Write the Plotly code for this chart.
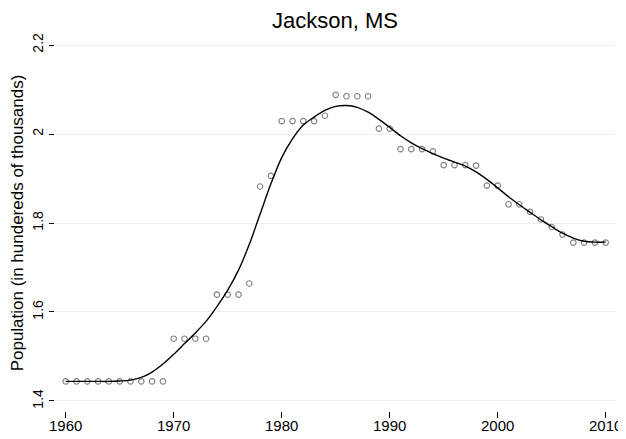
import plotly.graph_objects as go

years = list(range(1960, 2011))
population = [
    1.444, 1.444, 1.444, 1.444, 1.444, 1.444, 1.444, 1.444, 1.444, 1.444,  # 1960-1969
    1.540, 1.540, 1.540, 1.540, 1.639, 1.639, 1.639, 1.664, 1.882, 1.906,  # 1970-1979
    2.029, 2.029, 2.029, 2.029, 2.041, 2.088, 2.085, 2.085, 2.085, 2.012,  # 1980-1989
    2.012, 1.966, 1.966, 1.966, 1.961, 1.930, 1.930, 1.930, 1.929, 1.884,  # 1990-1999
    1.884, 1.842, 1.842, 1.825, 1.808, 1.791, 1.774, 1.756, 1.756, 1.756,  # 2000-2009
    1.756,                                                                 # 2010
]
smoothed = [
    1.444, 1.444, 1.444, 1.444, 1.444, 1.445, 1.447, 1.453, 1.465, 1.483,
    1.505, 1.529, 1.553, 1.579, 1.612, 1.649, 1.694, 1.752, 1.820, 1.888,
    1.947, 1.989, 2.020, 2.038, 2.053, 2.062, 2.064, 2.060, 2.049, 2.033,
    2.015, 1.996, 1.980, 1.967, 1.956, 1.946, 1.937, 1.928, 1.915, 1.898,
    1.879, 1.859, 1.841, 1.824, 1.807, 1.792, 1.777, 1.766, 1.759, 1.757,
    1.757,
]
x_ticks = [1960, 1970, 1980, 1990, 2000, 2010]
y_ticks = [1.4, 1.6, 1.8, 2.0, 2.2]
y_tick_labels = ["1.4", "1.6", "1.8", "2", "2.2"]

# The page body has a default 8px margin, so the figure is sized/offset to fit the 626x439 window.
FIG_W, FIG_H = 618, 431

fig = go.Figure()
fig.add_trace(go.Scatter(
    x=years, y=population, mode="markers",
    marker=dict(symbol="circle-open", size=5.5, color="#808080", line=dict(width=1.1, color="#808080")),
    showlegend=False, hoverinfo="skip",
))
fig.add_trace(go.Scatter(
    x=years, y=smoothed, mode="lines",
    line=dict(color="black", width=1.4, shape="spline", smoothing=0.8),
    showlegend=False, hoverinfo="skip",
))

font_family = "Liberation Sans, Arial, Helvetica, sans-serif"
fig.update_layout(
    width=FIG_W, height=FIG_H,
    margin=dict(l=47, r=11, t=27, b=28),
    paper_bgcolor="white", plot_bgcolor="white",
    font=dict(family=font_family, size=15, color="black"),
    title=dict(text="Jackson, MS", x=0.5, xanchor="center", xref="paper",
               y=1 - 12 / FIG_H, yanchor="middle", font=dict(size=22, color="black")),
)
fig.update_xaxes(
    range=[1959.01, 2010.86], tickvals=x_ticks, ticktext=[str(v) for v in x_ticks],
    showgrid=False, zeroline=False, showline=False, automargin=False,
    ticks="outside", ticklen=6, tickwidth=1, tickcolor="black",
    tickfont=dict(size=15), ticklabelstandoff=-5,
)
fig.update_yaxes(
    range=[1.3775, 2.2225], tickvals=y_ticks, ticktext=y_tick_labels,
    showgrid=True, gridcolor="#e8f0f2", gridwidth=1,
    zeroline=False, showline=False, automargin=False,
    ticks="outside", ticklen=5, tickwidth=1, tickcolor="black",
    tickangle=-90, tickfont=dict(size=14),
    title=dict(text="Population (in hundereds of thousands)", font=dict(size=17), standoff=4),
)

fig.write_html("out.html")
